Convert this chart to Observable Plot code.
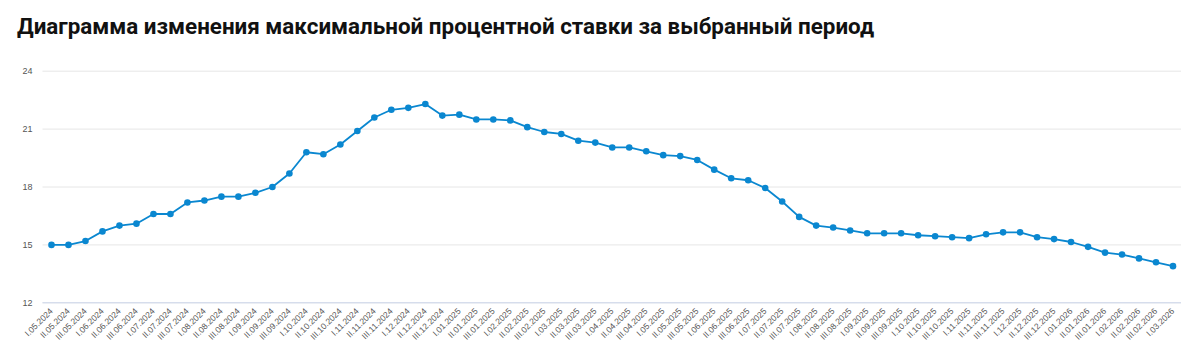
<!DOCTYPE html>
<html><head><meta charset="utf-8">
<script src="https://cdn.jsdelivr.net/npm/d3@7"></script>
<script src="https://cdn.jsdelivr.net/npm/@observablehq/plot@0.6"></script>
<style>
body{margin:0;background:#fff;}
#title{height:50px;box-sizing:border-box;padding:13px 0 0 17px;font:700 22.4px Roboto,sans-serif;color:#111;white-space:nowrap;}
</style></head><body>
<div id="title">Диаграмма изменения максимальной процентной ставки за выбранный период</div>
<div id="chart"></div>
<script>
const periods = [
 "I.05.2024","II.05.2024","III.05.2024","I.06.2024","II.06.2024","III.06.2024",
 "I.07.2024","II.07.2024","III.07.2024","I.08.2024","II.08.2024","III.08.2024",
 "I.09.2024","II.09.2024","III.09.2024","I.10.2024","II.10.2024","III.10.2024",
 "I.11.2024","II.11.2024","III.11.2024","I.12.2024","II.12.2024","III.12.2024",
 "I.01.2025","II.01.2025","III.01.2025","I.02.2025","II.02.2025","III.02.2025",
 "I.03.2025","II.03.2025","III.03.2025","I.04.2025","II.04.2025","III.04.2025",
 "I.05.2025","II.05.2025","III.05.2025","I.06.2025","II.06.2025","III.06.2025",
 "I.07.2025","II.07.2025","III.07.2025","I.08.2025","II.08.2025","III.08.2025",
 "I.09.2025","II.09.2025","III.09.2025","I.10.2025","II.10.2025","III.10.2025",
 "I.11.2025","II.11.2025","III.11.2025","I.12.2025","II.12.2025","III.12.2025",
 "I.01.2026","II.01.2026","III.01.2026","I.02.2026","II.02.2026","III.02.2026",
 "I.03.2026"
];
const rates = [
 15.0,15.0,15.2,15.7,16.0,16.1,
 16.6,16.6,17.2,17.3,17.5,17.5,
 17.7,18.0,18.7,19.8,19.7,20.2,
 20.9,21.6,22.0,22.1,22.3,21.7,
 21.75,21.5,21.5,21.45,21.1,20.85,
 20.75,20.4,20.3,20.05,20.05,19.85,
 19.65,19.6,19.4,18.9,18.45,18.35,
 17.95,17.25,16.45,16.0,15.9,15.75,
 15.6,15.6,15.6,15.5,15.45,15.4,
 15.35,15.55,15.65,15.65,15.4,15.3,
 15.15,14.9,14.6,14.5,14.3,14.1,
 13.9
];
const yTicks = [12,15,18,21,24];
const lineColor = "#0a87d0";

const data = periods.map((p,i)=>({period:p, rate:rates[i]}));

const chart = Plot.plot({
  width:1200, height:304,
  marginLeft:42.5, marginRight:19, marginTop:20.7, marginBottom:51.7,
  style:{fontFamily:"'Liberation Sans', Arial, sans-serif", background:"#fff", overflow:"visible"},
  x:{type:"point", domain:periods, padding:0.5},
  y:{domain:[12,24]},
  marks:[
    Plot.gridY(yTicks, {stroke:"#e6e6e6", strokeOpacity:1}),
    Plot.ruleY([12], {stroke:"#ccd6eb", strokeWidth:1}),
    Plot.axisY(yTicks, {tickSize:0, tickPadding:10.5, fontSize:9, fill:"#555", label:null}),
    Plot.axisX({tickSize:0, tickRotate:-45, tickPadding:7, fontSize:8.5, fill:"#555", label:null}),
    Plot.line(data, {x:"period", y:"rate", stroke:lineColor, strokeWidth:1.8}),
    Plot.dot(data, {x:"period", y:"rate", fill:lineColor, r:3.3})
  ]
});
document.getElementById("chart").append(chart);
</script>
</body></html>
